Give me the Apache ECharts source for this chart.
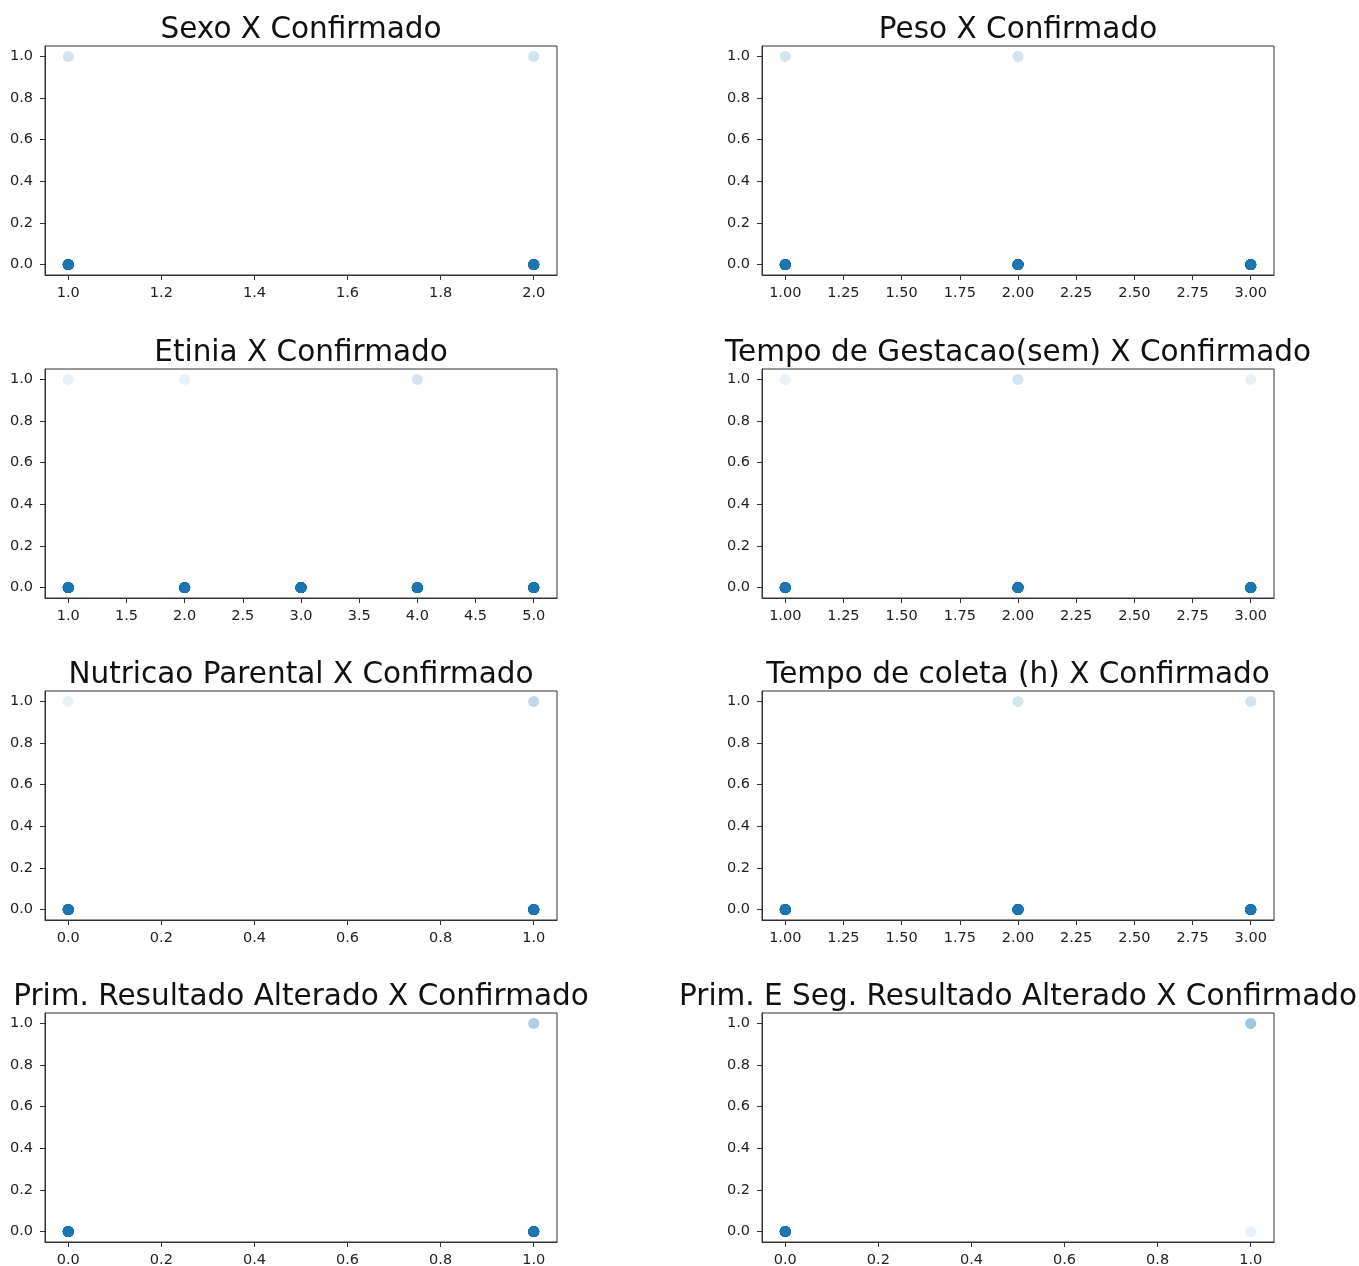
<!DOCTYPE html>
<html>
<head>
<meta charset="utf-8">
<title>Variáveis X Confirmado</title>
<script src="https://cdn.jsdelivr.net/npm/echarts@6/dist/echarts.min.js"></script>
<style>
  html, body { margin: 0; padding: 0; background: #ffffff; }
  #chart { width: 1359px; height: 1266px; }
</style>
</head>
<body>
<div id="chart"></div>
<script>
// Panel titles
const titles = [
  'Sexo X Confirmado',
  'Peso X Confirmado',
  'Etinia X Confirmado',
  'Tempo de Gestacao(sem) X Confirmado',
  'Nutricao Parental X Confirmado',
  'Tempo de coleta (h) X Confirmado',
  'Prim. Resultado Alterado X Confirmado',
  'Prim. E Seg. Resultado Alterado X Confirmado'
];

// Each panel: distinct (x, y) positions and how many records fall on each
const sexoX = [1, 2, 1, 2];
const sexoY = [0, 0, 1, 1];
const sexoN = [60, 60, 2, 2];

const pesoX = [1, 2, 3, 1, 2];
const pesoY = [0, 0, 0, 1, 1];
const pesoN = [60, 60, 60, 2, 2];

const etniaX = [1, 2, 3, 4, 5, 1, 2, 4];
const etniaY = [0, 0, 0, 0, 0, 1, 1, 1];
const etniaN = [60, 60, 60, 60, 60, 1, 1, 2];

const gestX = [1, 2, 3, 1, 2, 3];
const gestY = [0, 0, 0, 1, 1, 1];
const gestN = [60, 60, 60, 1, 2, 1];

const nutriX = [0, 1, 0, 1];
const nutriY = [0, 0, 1, 1];
const nutriN = [60, 60, 1, 3];

const coletaX = [1, 2, 3, 2, 3];
const coletaY = [0, 0, 0, 1, 1];
const coletaN = [60, 60, 60, 2, 2];

const primX = [0, 1, 1];
const primY = [0, 0, 1];
const primN = [60, 60, 4];

const primSegX = [0, 1, 1];
const primSegY = [0, 1, 0];
const primSegN = [60, 5, 1];

// Tick values for each kind of x axis, and the shared y axis
const ticksOneTwo = [1.0, 1.2, 1.4, 1.6, 1.8, 2.0];
const ticksOneThree = [1.00, 1.25, 1.50, 1.75, 2.00, 2.25, 2.50, 2.75, 3.00];
const ticksOneFive = [1.0, 1.5, 2.0, 2.5, 3.0, 3.5, 4.0, 4.5, 5.0];
const ticksZeroOne = [0.0, 0.2, 0.4, 0.6, 0.8, 1.0];
const yTicks = [0.0, 0.2, 0.4, 0.6, 0.8, 1.0];

const panels = [
  { x: sexoX, y: sexoY, n: sexoN, ticks: ticksOneTwo, dec: 1 },
  { x: pesoX, y: pesoY, n: pesoN, ticks: ticksOneThree, dec: 2 },
  { x: etniaX, y: etniaY, n: etniaN, ticks: ticksOneFive, dec: 1 },
  { x: gestX, y: gestY, n: gestN, ticks: ticksOneThree, dec: 2 },
  { x: nutriX, y: nutriY, n: nutriN, ticks: ticksZeroOne, dec: 1 },
  { x: coletaX, y: coletaY, n: coletaN, ticks: ticksOneThree, dec: 2 },
  { x: primX, y: primY, n: primN, ticks: ticksZeroOne, dec: 1 },
  { x: primSegX, y: primSegY, n: primSegN, ticks: ticksZeroOne, dec: 1 }
];

// Layout of the 4 x 2 grid of panels
const colLeft = [45, 762];
const colWidth = 512;
const rowTop = [46, 369, 691, 1013];
const rowHeight = 229;

const BLUE = '#1f77b4';
const FONT = 'DejaVu Sans';

const grids = [], xAxes = [], yAxes = [], series = [], titleOpts = [];

panels.forEach(function (p, i) {
  const col = i % 2, row = Math.floor(i / 2);
  grids.push({
    left: colLeft[col], top: rowTop[row], width: colWidth, height: rowHeight,
    containLabel: false, outerBoundsMode: 'none',
    show: true, borderColor: '#333', borderWidth: 1, backgroundColor: '#fff'
  });

  const lo = Math.min.apply(null, p.x), hi = Math.max.apply(null, p.x);
  const pad = (hi - lo) * 0.05;
  xAxes.push({
    type: 'value', gridIndex: i, min: lo - pad, max: hi + pad,
    splitLine: { show: false },
    axisLine: { show: true, onZero: false, lineStyle: { color: '#333', width: 1 } },
    axisTick: { show: true, length: 5, customValues: p.ticks, lineStyle: { color: '#333' } },
    axisLabel: {
      customValues: p.ticks, margin: 11, color: '#222', fontFamily: FONT, fontSize: 14.5,
      formatter: (function (d) { return function (v) { return v.toFixed(d); }; })(p.dec)
    }
  });
  yAxes.push({
    type: 'value', gridIndex: i, min: -0.05, max: 1.05,
    splitLine: { show: false },
    axisLine: { show: true, onZero: false, lineStyle: { color: '#333', width: 1 } },
    axisTick: { show: true, length: 5, customValues: yTicks, lineStyle: { color: '#333' } },
    axisLabel: {
      customValues: yTicks, margin: 12, color: '#222', fontFamily: FONT, fontSize: 14.5,
      formatter: function (v) { return v.toFixed(1); }
    }
  });

  // one translucent marker per record, so stacked records darken
  const pts = [];
  p.x.forEach(function (xv, k) {
    for (let r = 0; r < p.n[k]; r++) pts.push([xv, p.y[k]]);
  });
  series.push({
    type: 'scatter', xAxisIndex: i, yAxisIndex: i, data: pts,
    symbol: 'circle', symbolSize: 11, silent: true, animation: false,
    itemStyle: { color: BLUE, opacity: 0.1 }
  });

  titleOpts.push({
    text: titles[i],
    left: colLeft[col] + colWidth / 2, textAlign: 'center',
    top: rowTop[row] - 31, padding: 0,
    textStyle: { fontFamily: FONT, fontSize: 29.5, fontWeight: 'normal', color: '#111' }
  });
});

const chart = echarts.init(document.getElementById('chart'), null, { renderer: 'canvas' });
chart.setOption({
  backgroundColor: '#ffffff',
  animation: false,
  title: titleOpts,
  grid: grids,
  xAxis: xAxes,
  yAxis: yAxes,
  series: series
});
</script>
</body>
</html>
